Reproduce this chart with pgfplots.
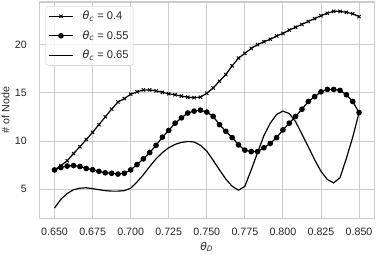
\documentclass[border=0pt]{standalone}
\usepackage{pgfplots}
\pgfplotsset{compat=1.18}
\usepackage{pgfplotstable}
\usepackage{fontspec}
\setmainfont{Liberation Sans}
\newfontfamily\dejavu{DejaVu Sans}
\definecolor{gridc}{gray}{0.8}
\definecolor{txt}{gray}{0.15}
\newcommand{\thsym}{{\dejavu\itshape θ}}
\pgfplotstableread{
x a b c
0.650000 7.00 7.00 3.05
0.654167 7.45 7.25 3.95
0.658333 7.95 7.40 4.55
0.662500 8.70 7.45 4.95
0.666667 9.40 7.35 5.10
0.670833 10.15 7.15 5.15
0.675000 10.90 7.02 5.05
0.679167 11.70 6.85 4.95
0.683333 12.50 6.70 4.85
0.687500 13.30 6.65 4.80
0.691667 14.05 6.57 4.80
0.695833 14.40 6.65 4.85
0.700000 14.85 7.00 5.10
0.704167 15.10 7.55 5.75
0.708333 15.30 8.15 6.50
0.712500 15.30 8.80 7.35
0.716667 15.20 9.55 8.15
0.720833 15.05 10.40 8.80
0.725000 14.90 11.10 9.30
0.729167 14.80 11.85 9.65
0.733333 14.65 12.40 9.85
0.737500 14.55 12.90 9.95
0.741667 14.50 13.10 9.90
0.745833 14.55 13.20 9.55
0.750000 14.95 13.00 8.95
0.754167 15.50 12.55 8.00
0.758333 16.20 11.70 7.00
0.762500 16.90 11.00 6.05
0.766667 17.80 10.35 5.30
0.770833 18.60 9.60 4.90
0.775000 19.10 9.05 5.30
0.779167 19.60 8.90 7.00
0.783333 20.00 8.90 8.80
0.787500 20.30 9.30 10.55
0.791667 20.55 9.75 11.85
0.795833 20.90 10.35 12.75
0.800000 21.15 11.15 13.10
0.804167 21.50 11.85 12.85
0.808333 21.80 12.55 12.00
0.812500 22.10 13.30 10.70
0.816667 22.40 14.10 9.40
0.820833 22.70 14.60 8.05
0.825000 23.00 15.10 6.85
0.829167 23.25 15.35 6.00
0.833333 23.45 15.35 5.65
0.837500 23.45 15.25 6.20
0.841667 23.35 14.80 8.20
0.845833 23.20 14.10 10.40
0.850000 22.90 12.95 12.95
}\data
\begin{document}
\begin{tikzpicture}
\useasboundingbox (-39.3bp,-35.7bp) rectangle (337.7bp,218.3bp);
\begin{axis}[
  scale only axis,
  width=335bp, height=216.3bp,
  xmin=0.64, xmax=0.86, ymin=1.98, ymax=24.42,
  xtick={0.65,0.675,0.7,0.725,0.75,0.775,0.8,0.825,0.85},
  ytick={5,10,15,20},
  grid=major,
  major grid style={gridc, line width=0.9bp},
  axis line style={gridc, line width=1.1bp},
  major tick length=0pt,
  tick style={draw=none},
  font=\fontsize{10.7}{12.8}\selectfont,
  tick label style={txt},
  /pgf/number format/assume math mode=true,
  xticklabel style={/pgf/number format/.cd, fixed, fixed zerofill, precision=3, /tikz/.cd, yshift=-6.4bp},
  yticklabel style={xshift=-9bp},
  xlabel={\thsym\textsubscript{\dejavu\itshape D}},
  ylabel={\# of Node},
  label style={txt},
  xlabel style={at={(axis description cs:0.5,-0.1466)}, anchor=base},
  ylabel style={at={(axis description cs:-0.089,0.5)}, anchor=base},
  legend cell align=left,
  legend style={at={(axis description cs:0.019,0.9815)}, anchor=north west,
    draw=gridc, rounded corners=2.5bp, fill=white, fill opacity=0.8, text opacity=1,
    text=txt, inner xsep=2.5bp, inner ysep=3bp, row sep=5.5bp,
    /tikz/every odd column/.append style={column sep=7bp},
    font=\fontsize{11.2}{13}\selectfont},
  legend image code/.code={\draw[mark repeat=2,mark phase=2,#1] plot coordinates {(0bp,0bp) (12bp,0bp) (24bp,0bp)};},
]
\addplot[black, line width=1.2bp, mark=x, mark size=2.3bp, mark options={line width=0.9bp}] table[x=x,y=a]{\data};
\addlegendentry{\thsym\textsubscript{\dejavu\itshape c} = 0.4}
\addplot[black, line width=1.2bp, mark=*, mark size=2.2bp] table[x=x,y=b]{\data};
\addlegendentry{\thsym\textsubscript{\dejavu\itshape c} = 0.55}
\addplot[black, line width=1.2bp] table[x=x,y=c]{\data};
\addlegendentry{\thsym\textsubscript{\dejavu\itshape c} = 0.65}
\end{axis}
\end{tikzpicture}
\end{document}
